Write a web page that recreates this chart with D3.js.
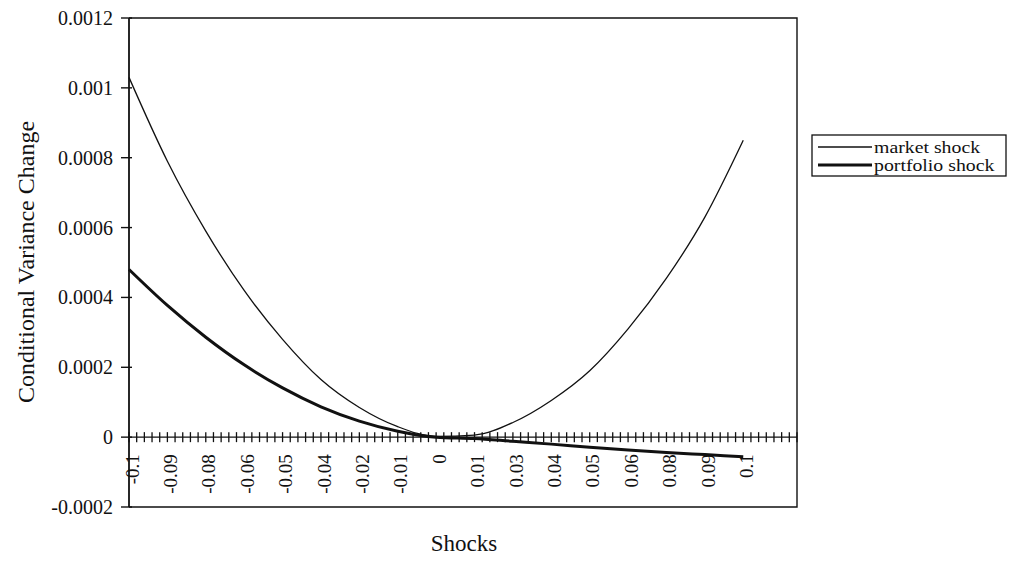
<!DOCTYPE html>
<html>
<head>
<meta charset="utf-8">
<script src="https://cdn.jsdelivr.net/npm/d3@7/dist/d3.min.js"></script>
<style>
  html, body { margin: 0; padding: 0; background: #fff; }
  svg { display: block; }
  text { font-family: "Liberation Serif", "Times New Roman", serif; fill: #111; }
</style>
</head>
<body>
<svg id="chart" width="1014" height="561"></svg>
<script>
// Shock sizes at which the variance response is plotted
const shocks = [-0.1, -0.0875, -0.075, -0.0625, -0.05, -0.0375, -0.025, -0.0125, 0,
                0.0125, 0.025, 0.0375, 0.05, 0.0625, 0.075, 0.0875, 0.1];

// Change in conditional variance after a market shock
const marketShock = [0.00103, 0.00079, 0.00059, 0.00042, 0.00028, 0.000165, 0.000085, 0.00003, 0.000002,
                     0.000006, 0.000042, 0.000105, 0.00019, 0.00031, 0.000455, 0.00063, 0.00085];

// Change in conditional variance after a portfolio-specific shock
const portfolioShock = [0.00048, 0.000377, 0.000286, 0.000207, 0.000141, 0.000087, 0.000046, 0.000017, 0,
                        -0.000004, -0.000012, -0.00002, -0.000029, -0.000037, -0.000044, -0.00005, -0.000056];

// Category axis: one tick per 0.0025 step, a label on every fifth category
const categoryStart = -0.1;
const categoryStep = 0.0025;
const categoryCount = 88;
const xTickLabels = ["-0.1", "-0.09", "-0.08", "-0.06", "-0.05", "-0.04", "-0.02", "-0.01", "0",
                     "0.01", "0.03", "0.04", "0.05", "0.06", "0.08", "0.09", "0.1"];

const yTicks = [-0.0002, 0, 0.0002, 0.0004, 0.0006, 0.0008, 0.001, 0.0012];
const yTickLabels = ["-0.0002", "0", "0.0002", "0.0004", "0.0006", "0.0008", "0.001", "0.0012"];

const seriesNames = ["market shock", "portfolio shock"];

const svg = d3.select("#chart");
const plot = { left: 129, right: 797, top: 18, bottom: 507 };

const categories = d3.range(categoryCount).map(i => categoryStart + i * categoryStep);

const x = d3.scaleLinear()
  .domain([categoryStart, categoryStart + (categoryCount - 1) * categoryStep])
  .range([plot.left, plot.right]);
const y = d3.scaleLinear()
  .domain([-0.0002, 0.0012])
  .range([plot.bottom, plot.top]);

// Plot area frame (top, right, bottom)
svg.append("path")
  .attr("d", `M${plot.left},${plot.top}H${plot.right}V${plot.bottom}H${plot.left}`)
  .attr("fill", "none").attr("stroke", "#111").attr("stroke-width", 1.4);

// Value axis on the left
const yAxis = svg.append("g").attr("transform", `translate(${plot.left},0)`);
yAxis.append("line")
  .attr("y1", plot.top).attr("y2", plot.bottom)
  .attr("stroke", "#111").attr("stroke-width", 1.8);
yAxis.selectAll("line.tick").data(yTicks).join("line")
  .attr("class", "tick")
  .attr("x1", -8).attr("x2", 3)
  .attr("y1", d => y(d)).attr("y2", d => y(d))
  .attr("stroke", "#111").attr("stroke-width", 1.4);
yAxis.selectAll("text").data(yTicks).join("text")
  .attr("x", -16).attr("y", d => y(d)).attr("dy", "0.35em")
  .attr("text-anchor", "end").attr("font-size", 20)
  .text((d, i) => yTickLabels[i]);

// Category axis crossing at zero
const y0 = y(0);
const xAxis = svg.append("g");
xAxis.append("line")
  .attr("x1", plot.left).attr("x2", plot.right)
  .attr("y1", y0).attr("y2", y0)
  .attr("stroke", "#111").attr("stroke-width", 1.4);
xAxis.selectAll("line.tick").data(categories).join("line")
  .attr("class", "tick")
  .attr("x1", d => x(d)).attr("x2", d => x(d))
  .attr("y1", y0 - 5).attr("y2", y0 + 5)
  .attr("stroke", "#111").attr("stroke-width", 1.3);
xAxis.selectAll("text").data(shocks).join("text")
  .attr("transform", d => `translate(${x(d) + 3},${y0 + 17}) rotate(-90)`)
  .attr("dy", "0.35em")
  .attr("text-anchor", "end").attr("font-size", 19)
  .text((d, i) => xTickLabels[i]);

// Series lines
const line = d3.line()
  .x((d, i) => x(shocks[i]))
  .y(d => y(d))
  .curve(d3.curveMonotoneX);

svg.append("path").datum(marketShock)
  .attr("d", line)
  .attr("fill", "none").attr("stroke", "#111").attr("stroke-width", 1.3);
svg.append("path").datum(portfolioShock)
  .attr("d", line)
  .attr("fill", "none").attr("stroke", "#111").attr("stroke-width", 3);

// Axis titles
svg.append("text")
  .attr("transform", "translate(34,262) rotate(-90)")
  .attr("text-anchor", "middle").attr("font-size", 24)
  .text("Conditional Variance Change");
svg.append("text")
  .attr("x", 464).attr("y", 551)
  .attr("text-anchor", "middle").attr("font-size", 23)
  .text("Shocks");

// Legend
const legend = svg.append("g").attr("transform", "translate(812,135)");
legend.append("rect")
  .attr("width", 194).attr("height", 41)
  .attr("fill", "#fff").attr("stroke", "#111").attr("stroke-width", 1.3);
const widths = [1.3, 3];
seriesNames.forEach((name, i) => {
  const ly = 12 + i * 18;
  legend.append("line")
    .attr("x1", 6).attr("x2", 60).attr("y1", ly).attr("y2", ly)
    .attr("stroke", "#111").attr("stroke-width", widths[i]);
  legend.append("text")
    .attr("transform", `translate(62,${ly}) scale(1.2,1)`)
    .attr("dy", "0.35em")
    .attr("font-size", 16.5)
    .text(name);
});
</script>
</body>
</html>
